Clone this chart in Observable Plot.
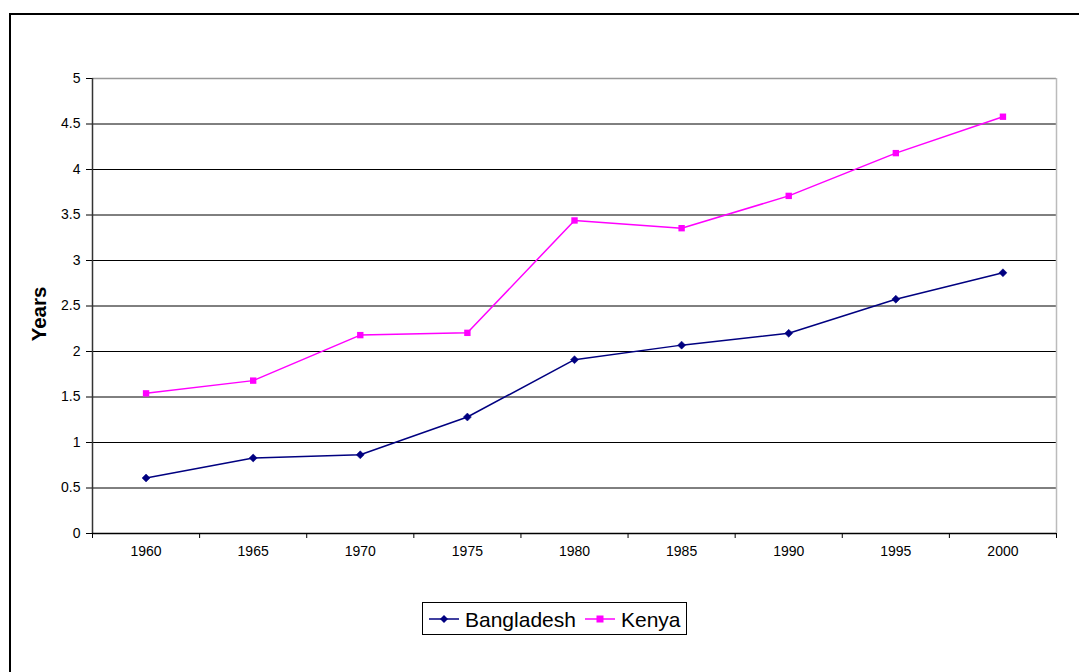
<!DOCTYPE html>
<html><head><meta charset="utf-8">
<script src="https://cdn.jsdelivr.net/npm/d3@7"></script>
<script src="https://cdn.jsdelivr.net/npm/@observablehq/plot@0.6"></script>
<style>
html,body{margin:0;padding:0;background:#fff;overflow:hidden;width:1079px;height:672px}
body{font-family:"Liberation Sans",Arial,sans-serif;position:relative}
#frame{position:absolute;left:9px;top:13px;width:1100px;height:700px;border:2px solid #000;box-sizing:border-box}
#chart{position:absolute;left:0;top:0}
#chart svg [aria-label^="y-axis"]{font-size:14px}
#legend{position:absolute;left:422px;top:602px;width:265px;height:33px;border:1px solid #000;box-sizing:border-box;background:#fff}
</style></head>
<body>
<div id="frame"></div>
<div id="chart"></div>
<div id="legend"></div>
<script>
const years = [1960, 1965, 1970, 1975, 1980, 1985, 1990, 1995, 2000];
const bangladesh = [0.61, 0.83, 0.865, 1.28, 1.91, 2.07, 2.20, 2.575, 2.865];
const kenya = [1.54, 1.68, 2.18, 2.205, 3.44, 3.355, 3.71, 4.18, 4.58];
const yTicks = [0, 0.5, 1, 1.5, 2, 2.5, 3, 3.5, 4, 4.5, 5];
const seriesNames = ["Bangladesh", "Kenya"];
const seriesColors = ["#000080", "#ff00ff"];

const rows = [];
years.forEach((yr, i) => {
  rows.push({year: yr, value: bangladesh[i], series: seriesNames[0]});
  rows.push({year: yr, value: kenya[i], series: seriesNames[1]});
});
const half = (years[1] - years[0]) / 2;
const edges = years.map(y => y - half).concat([years[years.length - 1] + half]);
const xDomain = [edges[0], edges[edges.length - 1]];

const chart = Plot.plot({
  width: 1079,
  height: 575,
  marginLeft: 92,
  marginRight: 23,
  marginTop: 78,
  marginBottom: 42,
  style: {fontFamily: "'Liberation Sans', Arial, sans-serif", fontSize: "14px", background: "transparent", color: "#000"},
  x: {domain: xDomain, ticks: edges, tickFormat: () => "", tickSize: 5, label: null},
  y: {domain: [0, 5], ticks: yTicks, tickFormat: d => String(d), tickSize: 6, tickPadding: 6, label: null},
  marks: [
    Plot.ruleY(yTicks.filter(d => d > 0 && d < 5), {stroke: "#000", strokeWidth: 1}),
    Plot.ruleY([5], {stroke: "#999", strokeWidth: 1.5}),
    Plot.ruleX([xDomain[1]], {stroke: "#bbb", strokeWidth: 1.5}),
    Plot.ruleX([xDomain[0]], {stroke: "#333", strokeWidth: 1.5}),
    Plot.ruleY([0], {stroke: "#000", strokeWidth: 1.5}),
    Plot.line(rows.filter(d => d.series === seriesNames[0]), {x: "year", y: "value", stroke: seriesColors[0], strokeWidth: 1.5}),
    Plot.line(rows.filter(d => d.series === seriesNames[1]), {x: "year", y: "value", stroke: seriesColors[1], strokeWidth: 1.5}),
    Plot.dot(rows.filter(d => d.series === seriesNames[0]), {x: "year", y: "value", symbol: "diamond2", r: 3.6, fill: seriesColors[0], stroke: seriesColors[0], strokeWidth: 0.5}),
    Plot.dot(rows.filter(d => d.series === seriesNames[1]), {x: "year", y: "value", symbol: "square", r: 3.6, fill: seriesColors[1], stroke: "none"}),
    Plot.text(years, {x: d => d, y: () => 0, text: d => String(d), dy: 13, lineAnchor: "top", textAnchor: "middle", fontSize: 14}),
    Plot.text(["Years"], {frameAnchor: "left", dx: -53, dy: 8, rotate: -90, text: d => d, fontWeight: "bold", fontSize: 20.5, textAnchor: "middle"})
  ]
});
document.getElementById("chart").appendChild(chart);

// legend
const lg = d3.select("#legend").append("svg").attr("width", 263).attr("height", 31)
  .style("position", "absolute").style("left", "0px").style("top", "0px");
const items = [
  {name: seriesNames[0], color: seriesColors[0], x0: 6, tx: 42, sym: "diamond"},
  {name: seriesNames[1], color: seriesColors[1], x0: 162, tx: 198, sym: "square"}
];
items.forEach(it => {
  lg.append("line").attr("x1", it.x0).attr("x2", it.x0 + 30).attr("y1", 16).attr("y2", 16)
    .attr("stroke", it.color).attr("stroke-width", 1.5);
  const cx = it.x0 + 15;
  if (it.sym === "diamond") {
    lg.append("path").attr("d", `M${cx},${16-4}L${cx+4},16L${cx},${16+4}L${cx-4},16Z`).attr("fill", it.color);
  } else {
    lg.append("rect").attr("x", cx - 3.5).attr("y", 12.5).attr("width", 7).attr("height", 7).attr("fill", it.color);
  }
  lg.append("text").attr("x", it.tx).attr("y", 23.5).text(it.name)
    .attr("font-family", "'Liberation Sans', Arial, sans-serif").attr("font-size", 21).attr("fill", "#000");
});
</script>
</body></html>
